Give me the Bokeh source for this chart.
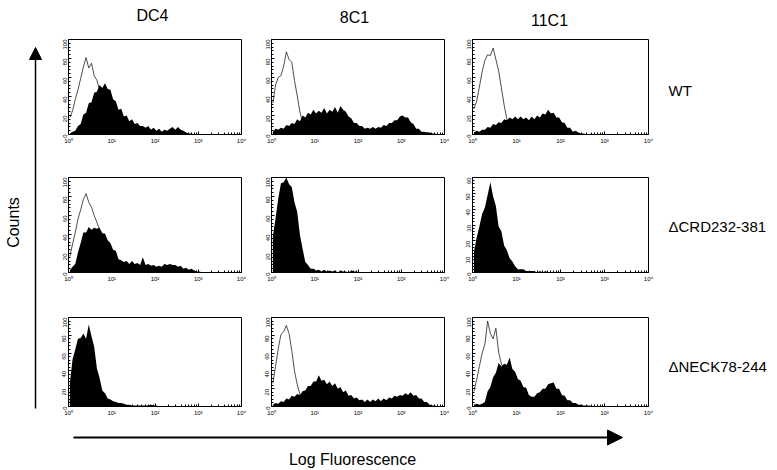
import math
import numpy as np
from bokeh.plotting import figure
from bokeh.layouts import row, column
from bokeh.models import Range1d, FixedTicker, Label, Arrow, NormalHead
from bokeh.embed import file_html
from bokeh.resources import INLINE

FONT = "Liberation Sans"

# ---------------- data ----------------
antibodies = ["DC4", "8C1", "11C1"]
constructs = ["WT", "ΔCRD232-381", "ΔNECK78-244"]
x_axis_label = "Log Fluorescence"
y_axis_label = "Counts"
x_tick_values = [1, 10, 100, 1000, 10000]
x_tick_labels = ["10⁰", "10¹", "10²", "10³", "10⁴"]
y_ticks_100 = [0, 20, 40, 60, 80, 100]
y_ticks_60 = [0, 10, 20, 30, 40, 50, 60]

# histograms: 64 channels, 16 per decade, from 10^0 to 10^4
dc4_wt_fill = [1, 3, 4, 9, 11, 21, 23, 33, 34, 44, 45, 52, 49, 54, 48, 47,
               37, 35, 26, 27, 19, 20, 14, 16, 11, 12, 9, 9, 7, 9, 5, 7,
               4, 6, 3, 5, 4, 6, 8, 5, 8, 5, 4, 2, 1, 1, 0, 0,
               0, 0, 0, 0, 0, 0, 0, 0, 0, 0, 0, 0, 0, 0, 0, 0]
dc4_wt_open = [18, 25, 37, 47, 59, 71, 81, 70, 75, 62, 57, 47, 41, 31, 26, 17,
               12, 8, 5, 3, 2, 1, 0, 0, 0, 0, 0, 0, 0, 0, 0, 0,
               0, 0, 0, 0, 0, 0, 0, 0, 0, 0, 0, 0, 0, 0, 0, 0,
               0, 0, 0, 0, 0, 0, 0, 0, 0, 0, 0, 0, 0, 0, 0, 0]
c8_wt_fill = [3, 6, 5, 7, 6, 10, 9, 12, 11, 16, 14, 20, 18, 23, 21, 26,
              22, 25, 23, 28, 22, 26, 24, 29, 23, 30, 26, 24, 19, 17, 12, 12,
              9, 9, 6, 7, 6, 8, 6, 8, 7, 10, 9, 12, 12, 15, 15, 19,
              20, 18, 18, 13, 11, 6, 6, 3, 3, 2, 2, 1, 1, 0, 0, 0]
c8_wt_open = [33, 52, 60, 62, 72, 87, 79, 76, 57, 41, 24, 12, 6, 3, 1, 0,
              0, 0, 0, 0, 0, 0, 0, 0, 0, 0, 0, 0, 0, 0, 0, 0,
              0, 0, 0, 0, 0, 0, 0, 0, 0, 0, 0, 0, 0, 0, 0, 0,
              0, 0, 0, 0, 0, 0, 0, 0, 0, 0, 0, 0, 0, 0, 0, 0]
c11_wt_fill = [2, 4, 3, 5, 5, 8, 7, 11, 10, 13, 12, 16, 15, 18, 16, 19,
               16, 19, 16, 18, 15, 19, 16, 20, 18, 22, 21, 26, 22, 23, 18, 18,
               13, 12, 7, 7, 3, 4, 2, 1, 1, 0, 0, 0, 0, 0, 0, 0,
               0, 0, 0, 0, 0, 0, 0, 0, 0, 0, 0, 0, 0, 0, 0, 0]
c11_wt_open = [27, 35, 50, 66, 78, 84, 83, 91, 79, 67, 49, 31, 16, 8, 4, 2,
               1, 0, 0, 0, 0, 0, 0, 0, 0, 0, 0, 0, 0, 0, 0, 0,
               0, 0, 0, 0, 0, 0, 0, 0, 0, 0, 0, 0, 0, 0, 0, 0,
               0, 0, 0, 0, 0, 0, 0, 0, 0, 0, 0, 0, 0, 0, 0, 0]
dc4_crd_fill = [2, 6, 9, 21, 31, 42, 42, 48, 45, 47, 46, 47, 41, 41, 34, 31,
                24, 23, 14, 13, 11, 12, 9, 12, 9, 10, 8, 16, 8, 9, 7, 8,
                6, 7, 6, 9, 8, 9, 8, 8, 6, 7, 4, 5, 3, 4, 2, 1,
                1, 0, 0, 0, 0, 0, 0, 0, 0, 0, 0, 0, 0, 0, 0, 0]
dc4_crd_open = [17, 30, 42, 56, 66, 77, 83, 74, 69, 60, 53, 45, 41, 33, 28, 19,
                14, 9, 6, 4, 2, 1, 0, 0, 0, 0, 0, 0, 0, 0, 0, 0,
                0, 0, 0, 0, 0, 0, 0, 0, 0, 0, 0, 0, 0, 0, 0, 0,
                0, 0, 0, 0, 0, 0, 0, 0, 0, 0, 0, 0, 0, 0, 0, 0]
c8_crd_fill = [38, 57, 78, 94, 95, 100, 93, 90, 74, 64, 40, 25, 11, 8, 4, 4,
               2, 3, 1, 3, 1, 2, 1, 2, 0, 2, 1, 1, 0, 2, 1, 1,
               0, 0, 0, 0, 0, 0, 0, 0, 0, 0, 0, 0, 0, 0, 0, 0,
               0, 0, 0, 0, 0, 0, 0, 0, 0, 0, 0, 0, 0, 0, 0, 0]
c11_crd_fill = [13, 22, 29, 37, 41, 49, 57, 48, 42, 29, 26, 17, 14, 9, 7, 4,
                2, 2, 2, 1, 1, 1, 1, 0, 1, 0, 1, 0, 0, 0, 0, 0,
                0, 0, 0, 0, 0, 0, 0, 0, 0, 0, 0, 0, 0, 0, 0, 0,
                0, 0, 0, 0, 0, 0, 0, 0, 0, 0, 0, 0, 0, 0, 0, 0]
dc4_neck_fill = [26, 53, 64, 76, 77, 82, 76, 92, 79, 67, 43, 32, 18, 15, 9, 8,
                 6, 5, 4, 4, 3, 2, 2, 1, 1, 1, 1, 1, 1, 1, 2, 1,
                 1, 0, 0, 0, 0, 0, 0, 0, 0, 0, 0, 0, 0, 0, 0, 0,
                 0, 0, 0, 0, 0, 0, 0, 0, 0, 0, 0, 0, 0, 0, 0, 0]
c8_neck_fill = [2, 4, 3, 6, 5, 9, 8, 12, 11, 14, 13, 17, 18, 23, 23, 28,
                28, 35, 29, 30, 25, 28, 23, 26, 20, 22, 16, 18, 12, 13, 9, 10,
                7, 8, 5, 8, 5, 8, 6, 9, 6, 9, 7, 10, 9, 12, 11, 13,
                12, 15, 13, 16, 12, 13, 9, 9, 5, 5, 2, 1, 1, 0, 0, 0]
c8_neck_open = [26, 45, 65, 81, 84, 91, 82, 63, 40, 25, 14, 7, 3, 1, 0, 0,
                0, 0, 0, 0, 0, 0, 0, 0, 0, 0, 0, 0, 0, 0, 0, 0,
                0, 0, 0, 0, 0, 0, 0, 0, 0, 0, 0, 0, 0, 0, 0, 0,
                0, 0, 0, 0, 0, 0, 0, 0, 0, 0, 0, 0, 0, 0, 0, 0]
c11_neck_fill = [2, 3, 2, 3, 5, 17, 22, 33, 38, 49, 45, 48, 47, 55, 42, 39,
                 31, 29, 22, 21, 13, 11, 11, 15, 16, 20, 20, 25, 26, 27, 20, 20,
                 13, 12, 7, 7, 4, 4, 2, 2, 1, 1, 1, 0, 0, 0, 0, 0,
                 0, 0, 0, 0, 0, 0, 0, 0, 0, 0, 0, 0, 0, 0, 0, 0]
c11_neck_open = [17, 30, 45, 60, 70, 96, 82, 76, 88, 61, 48, 40, 30, 22, 14, 8,
                 4, 2, 1, 0, 0, 0, 0, 0, 0, 0, 0, 0, 0, 0, 0, 0,
                 0, 0, 0, 0, 0, 0, 0, 0, 0, 0, 0, 0, 0, 0, 0, 0,
                 0, 0, 0, 0, 0, 0, 0, 0, 0, 0, 0, 0, 0, 0, 0, 0]

panels = [
    [(dc4_wt_fill, dc4_wt_open, 100), (c8_wt_fill, c8_wt_open, 100), (c11_wt_fill, c11_wt_open, 100)],
    [(dc4_crd_fill, dc4_crd_open, 100), (c8_crd_fill, None, 100), (c11_crd_fill, None, 60)],
    [(dc4_neck_fill, None, 100), (c8_neck_fill, c8_neck_open, 100), (c11_neck_fill, c11_neck_open, 100)],
]

# ---------------- layout geometry (pixels) ----------------
col_w = [206, 202, 202]
col_bl = [18, 15, 14]
col_br = [15, 14, 12]
row_h = [125, 138, 132]
row_bt = [[7, 8, 9], [20, 22, 22], [21, 22, 24]]
row_bb = [[21, 19, 18], [21, 20, 18], [19, 18, 13]]
TOTAL_H = 469

CH_PER_DEC = 16
centers = 10 ** ((np.arange(4 * CH_PER_DEC) + 0.5) / CH_PER_DEC)
x_minor = [m * 10 ** d for d in range(4) for m in range(2, 10)]


def style_axis(ax):
    ax.axis_line_color = "black"
    ax.axis_line_width = 1
    ax.major_tick_line_color = "black"
    ax.minor_tick_line_color = "black"
    ax.major_tick_in = 3
    ax.major_tick_out = 0
    ax.minor_tick_in = 2
    ax.minor_tick_out = 0
    ax.major_label_text_font = FONT
    ax.major_label_text_font_size = "6px"
    ax.major_label_text_color = "black"


def make_panel(r, c):
    fill, opn, ymax = panels[r][c]
    assert len(fill) == 64
    p = figure(width=col_w[c], height=row_h[r], x_axis_type="log",
               x_range=Range1d(1, 10000), y_range=Range1d(0, ymax),
               output_backend="svg", toolbar_location=None,
               min_border_left=col_bl[c], min_border_right=col_br[c],
               min_border_top=row_bt[r][c], min_border_bottom=row_bb[r][c])
    p.grid.visible = False
    p.outline_line_color = "black"
    p.outline_line_width = 1
    p.outline_line_alpha = 1
    p.background_fill_color = "white"
    p.border_fill_color = "white"

    xa = p.xaxis[0]
    xa.ticker = FixedTicker(ticks=x_tick_values, minor_ticks=x_minor)
    xa.major_label_overrides = dict(zip(x_tick_values, x_tick_labels))
    style_axis(xa)
    xa.major_label_standoff = 3

    ya = p.yaxis[0]
    yt = y_ticks_100 if ymax == 100 else y_ticks_60
    step = 4 if ymax == 100 else 2
    ya.ticker = FixedTicker(ticks=yt, minor_ticks=list(range(0, ymax + 1, step)))
    style_axis(ya)
    ya.major_label_orientation = math.pi / 2
    ya.major_label_standoff = 4

    if opn is not None:
        p.line(x=centers, y=np.array(opn, dtype=float), line_color="#222222", line_width=0.8)
    p.varea(x=centers, y1=0, y2=np.array(fill, dtype=float), fill_color="black", fill_alpha=1)
    return p


def blank(w, h):
    p = figure(width=w, height=h, x_range=Range1d(0, w), y_range=Range1d(0, h),
               output_backend="svg", toolbar_location=None,
               x_axis_location=None, y_axis_location=None,
               min_border_left=0, min_border_right=0, min_border_top=0, min_border_bottom=0)
    p.grid.visible = False
    p.outline_line_color = None
    p.background_fill_color = "white"
    p.border_fill_color = "white"
    return p


# top (column titles): page x 50..660, y 0..30
top = blank(610, 30)
for name, xc, yc in zip(antibodies, [152, 354, 549], [15, 17, 20]):
    top.add_layout(Label(x=xc - 50, y=30 - yc, text=name, text_align="center",
                         text_baseline="middle", text_font=FONT, text_font_size="16px",
                         text_color="black"))

# bottom (x arrow and label): x 50..660, y 425..469
bottom = blank(610, TOTAL_H - 425)
bottom.add_layout(Arrow(end=NormalHead(size=15, fill_color="black", line_color="black"),
                        x_start=73 - 50, y_start=TOTAL_H - 437, x_end=622 - 50, y_end=TOTAL_H - 437,
                        line_width=2, line_color="black"))
bottom.add_layout(Label(x=352 - 50, y=TOTAL_H - 459, text=x_axis_label, text_align="center",
                        text_baseline="middle", text_font=FONT, text_font_size="16px",
                        text_color="black"))

# left (y arrow and label): x 0..50
left = blank(50, TOTAL_H)
left.add_layout(Arrow(end=NormalHead(size=12, fill_color="black", line_color="black"),
                      x_start=35, y_start=TOTAL_H - 408, x_end=35, y_end=TOTAL_H - 47,
                      line_width=1.5, line_color="black"))
left.add_layout(Label(x=13, y=TOTAL_H - 222, text=y_axis_label, angle=math.pi / 2,
                      text_align="center", text_baseline="middle", text_font=FONT,
                      text_font_size="16px", text_color="black"))

# right (row labels): x 660..776
right = blank(116, TOTAL_H)
for name, yc in zip(constructs, [90, 226, 366]):
    right.add_layout(Label(x=8, y=TOTAL_H - yc, text=name, text_align="left",
                           text_baseline="middle", text_font=FONT, text_font_size="15px",
                           text_color="black"))

rows = [row(*[make_panel(r, c) for c in range(3)], spacing=0) for r in range(3)]
middle = column(top, *rows, bottom, spacing=0)
layout = row(left, middle, right, spacing=0)

open("out.html", "w").write(file_html(layout, INLINE))
